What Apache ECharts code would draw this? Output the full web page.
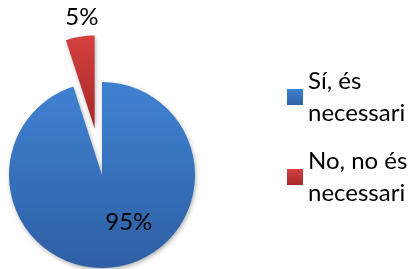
<!DOCTYPE html>
<html>
<head>
<meta charset="UTF-8">
<title></title>
<style>
  html, body { margin: 0; padding: 0; background: #fff; }
</style>
</head>
<body>
<div id="main" style="width:413px;height:269px"></div>
<script src="https://cdn.jsdelivr.net/npm/echarts@6/dist/echarts.min.js"></script>
<script type="text/javascript">
	var categories = ['Sí, és necessari', 'No, no és necessari'];
	var values = [95, 5];
	var legendLabels = ['Sí, és\nnecessari', 'No, no és\nnecessari'];

	var blueFill = new echarts.graphic.LinearGradient(0, 0, 0, 1, [
		{ offset: 0, color: '#3f82d2' },
		{ offset: 1, color: '#2e5fa4' }
	]);
	var redFill = new echarts.graphic.LinearGradient(0, 0, 0, 1, [
		{ offset: 0, color: '#d54040' },
		{ offset: 1, color: '#a52828' }
	]);
	var fills = [blueFill, redFill];

	var myCharts = echarts.init(document.querySelector('#main'));

	var option = {
		animation: false,
		legend: {
			orient: 'vertical',
			left: 287,
			top: 49,
			padding: 0,
			icon: 'rect',
			itemWidth: 16,
			itemHeight: 16,
			itemGap: -16,
			selectedMode: false,
			formatter: function(name) {
				return legendLabels[categories.indexOf(name)];
			},
			textStyle: {
				fontFamily: 'Lato',
				fontSize: 24,
				lineHeight: 32,
				color: '#000',
				padding: [32, 0, 0, 0]
			},
			data: categories
		},
		series: [{
			type: 'pie',
			center: [102, 175],
			radius: 93,
			startAngle: 90,
			selectedMode: 'single',
			selectedOffset: 47,
			itemStyle: {
				shadowBlur: 4,
				shadowColor: 'rgba(0,0,0,0.3)',
				shadowOffsetX: 1,
				shadowOffsetY: 2
			},
			label: {
				show: true,
				position: 'inside',
				fontFamily: 'Lato',
				fontSize: 24,
				color: '#000',
				formatter: '{c}%'
			},
			labelLine: { show: false },
			labelLayout: function(params) {
				if (params.dataIndex === 0) return { dx: 19, dy: -2 };
				return { dx: -5, dy: -62 };
			},
			emphasis: { disabled: true },
			data: categories.map(function(c, i) {
				return {
					name: c,
					value: values[i],
					selected: i === 1,
					itemStyle: { color: fills[i] }
				};
			})
		}]
	};

	myCharts.setOption(option);
</script>
</body>
</html>
